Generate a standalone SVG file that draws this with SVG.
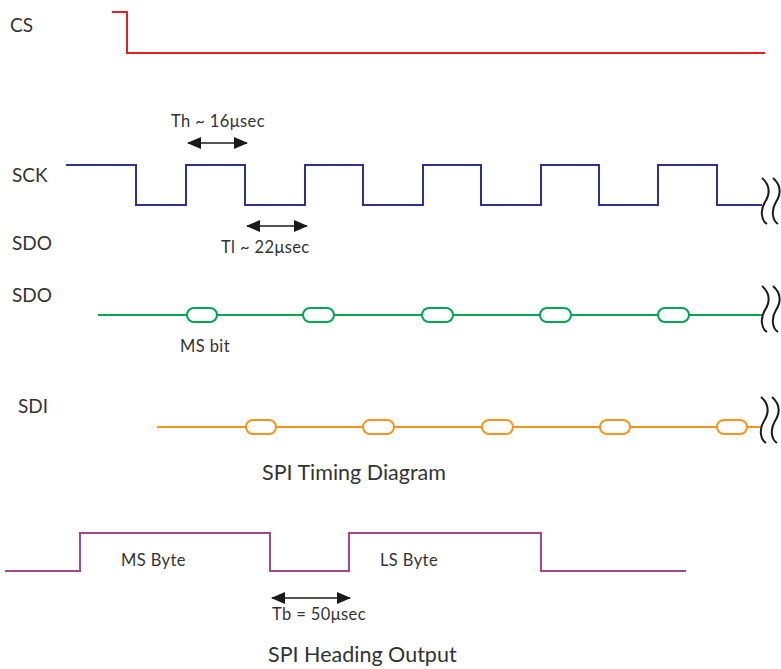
<svg xmlns="http://www.w3.org/2000/svg" width="781" height="669" viewBox="0 0 781 669">
<style>
text{font-family:"Lato","Liberation Sans",sans-serif;fill:#333;}
.lbl{font-size:19px;}
.sm{font-size:16.5px;letter-spacing:0.4px;}
.big{font-size:21.5px;}
.wave{fill:none;stroke-width:2;stroke-linejoin:miter;}
.pill{fill:#fff;stroke-width:2;}
.sq{fill:none;stroke:#1a1a1a;stroke-width:2;}
.arr{stroke:#1a1a1a;stroke-width:1.6;marker-start:url(#ah);marker-end:url(#ah);}
</style>
<defs>
<marker id="ah" viewBox="0 0 14 12" refX="13" refY="6" markerWidth="14" markerHeight="12" markerUnits="userSpaceOnUse" orient="auto-start-reverse">
<path d="M0,0 L14,6 L0,12 Z" fill="#1a1a1a"/>
</marker>
<path id="squig" d="M0,0 C9,8 8,16 3,24 C-2,32 -1,42 5,46"/>
</defs>

<g id="cs">
<text class="lbl" x="10" y="32">CS</text>
<path class="wave" stroke="#ed1c24" d="M112,12 H127 V53 H765"/>
</g>

<g id="sck">
<text class="lbl" x="12" y="182">SCK</text>
<path class="wave" stroke="#2e3192" d="M66,165 H136 V205 H186 V165 H245 V205 H305 V165 H363 V205 H423 V165 H481 V205 H541 V165 H599 V205 H658 V165 H717 V205 H762"/>
<use href="#squig" class="sq" x="762" y="178"/>
<use href="#squig" class="sq" x="773" y="178"/>
</g>

<g id="sdo-label">
<text class="lbl" x="12" y="250">SDO</text>
</g>

<g id="sdo">
<text class="lbl" x="12" y="302">SDO</text>
<path class="wave" stroke="#00a651" d="M98,315 H763"/>
<g class="pill" stroke="#00a651">
<rect x="187" y="308" width="30" height="14" rx="7"/>
<rect x="303" y="308" width="31" height="14" rx="7"/>
<rect x="422" y="308" width="31" height="14" rx="7"/>
<rect x="540" y="308" width="31" height="14" rx="7"/>
<rect x="658" y="308" width="31" height="14" rx="7"/>
</g>
<use href="#squig" class="sq" x="762" y="286"/>
<use href="#squig" class="sq" x="773" y="286"/>
<text class="sm" x="180" y="352">MS bit</text>
</g>

<g id="sdi">
<text class="lbl" x="18" y="413">SDI</text>
<path class="wave" stroke="#f7941d" d="M157,427 H762"/>
<g class="pill" stroke="#f7941d">
<rect x="246" y="420" width="30" height="14" rx="7"/>
<rect x="363" y="420" width="31" height="14" rx="7"/>
<rect x="482" y="420" width="31" height="14" rx="7"/>
<rect x="600" y="420" width="30" height="14" rx="7"/>
<rect x="717" y="420" width="30" height="14" rx="7"/>
</g>
<use href="#squig" class="sq" x="761" y="397"/>
<use href="#squig" class="sq" x="772" y="397"/>
</g>

<g id="title1">
<text class="big" x="262" y="480">SPI Timing Diagram</text>
</g>

<g id="heading">
<path class="wave" stroke="#a3488f" d="M5,571 H80 V533 H270 V571 H349 V533 H541 V571 H686"/>
<text class="sm" x="121" y="566">MS Byte</text>
<text class="sm" x="380" y="566">LS Byte</text>
<text class="sm" x="272" y="620">Tb = 50μsec</text>
</g>

<g id="title2">
<text class="big" x="268" y="662">SPI Heading Output</text>
</g>

<g id="timing-labels">
<text class="sm" x="171" y="127">Th ~ 16μsec</text>
<text class="sm" x="221" y="253">Tl ~ 22μsec</text>
</g>

<g id="connectors">
<line class="arr" x1="188" y1="143" x2="247" y2="143"/>
<line class="arr" x1="247" y1="226" x2="307" y2="226"/>
<line class="arr" x1="272" y1="598" x2="350" y2="598"/>
</g>
</svg>
